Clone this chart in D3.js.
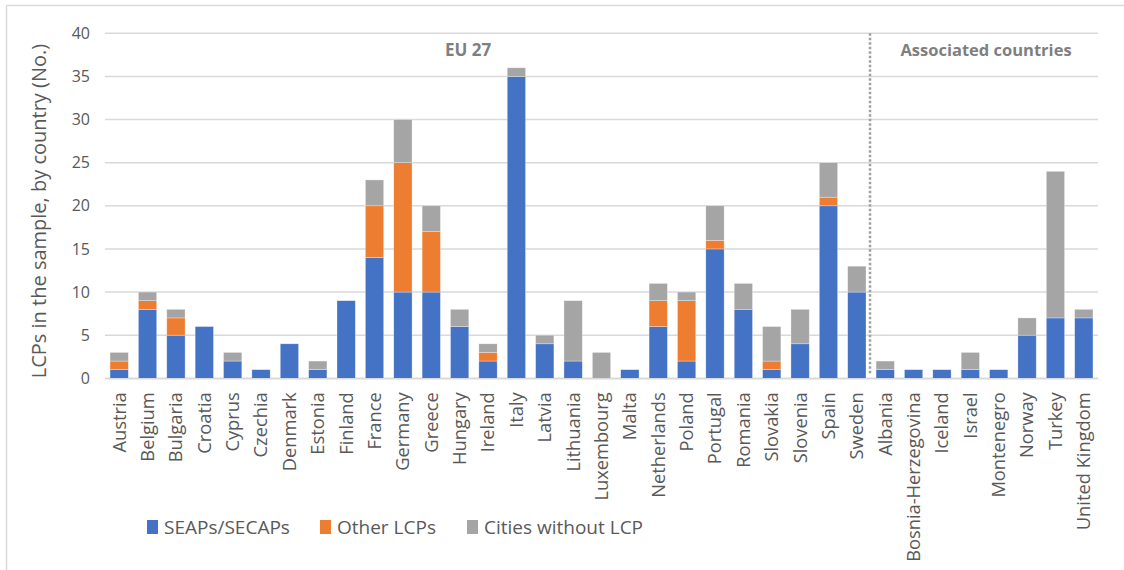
<!DOCTYPE html>
<html>
<head>
<meta charset="utf-8">
<script src="https://cdn.jsdelivr.net/npm/d3@7"></script>
<style>
  body { margin: 0; background: #fff; }
  svg { font-family: "Open Sans", "Noto Sans", sans-serif; }
</style>
</head>
<body>
<div id="chart"></div>
<script>
var w = 1124;
var h = 570;

// countries (EU 27 first, then associated countries)
var countries = ["Austria", "Belgium", "Bulgaria", "Croatia", "Cyprus", "Czechia", "Denmark", "Estonia",
    "Finland", "France", "Germany", "Greece", "Hungary", "Ireland", "Italy", "Latvia", "Lithuania",
    "Luxembourg", "Malta", "Netherlands", "Poland", "Portugal", "Romania", "Slovakia", "Slovenia",
    "Spain", "Sweden", "Albania", "Bosnia-Herzegovina", "Iceland", "Israel", "Montenegro", "Norway",
    "Turkey", "United Kingdom"];
var seaps  = [1, 8, 5, 6, 2, 1, 4, 1, 9, 14, 10, 10, 6, 2, 35, 4, 2, 0, 1, 6, 2, 15, 8, 1, 4, 20, 10,
              1, 1, 1, 1, 1, 5, 7, 7];
var other  = [1, 1, 2, 0, 0, 0, 0, 0, 0, 6, 15, 7, 0, 1, 0, 0, 0, 0, 0, 3, 7, 1, 0, 1, 0, 1, 0,
              0, 0, 0, 0, 0, 0, 0, 0];
var noLcp  = [1, 1, 1, 0, 1, 0, 0, 1, 0, 3, 5, 3, 2, 1, 1, 1, 7, 3, 0, 2, 1, 4, 3, 4, 4, 4, 3,
              1, 0, 0, 2, 0, 2, 17, 1];
var seriesNames = ["SEAPs/SECAPs", "Other LCPs", "Cities without LCP"];
var yTicks = [0, 5, 10, 15, 20, 25, 30, 35, 40];
var euCount = 27;

var dataset = countries.map(function(c, i) {
    return { country: c, "SEAPs/SECAPs": seaps[i], "Other LCPs": other[i], "Cities without LCP": noLcp[i] };
});

var svg = d3.select("#chart")
            .append("svg")
            .attr("width", w)
            .attr("height", h);

// chart frame (only top and left edges visible in the original)
svg.append("rect")
   .attr("x", 6.5).attr("y", 5.5)
   .attr("width", w + 10).attr("height", h + 10)
   .attr("fill", "none")
   .attr("stroke", "#d9d9d9")
   .attr("stroke-width", 1.5);

var plotLeft = 105, plotRight = 1098, plotTop = 33.3, plotBottom = 378.3;

var xScale = d3.scaleBand()
               .domain(countries)
               .range([plotLeft, plotRight])
               .paddingInner(0.355)
               .paddingOuter(0.1775);

var yScale = d3.scaleLinear()
               .domain([0, 40])
               .range([plotBottom, plotTop]);

var color = d3.scaleOrdinal()
              .domain(seriesNames)
              .range(["#4472c4", "#ed7d31", "#a5a5a5"]);

// gridlines
svg.append("g")
   .selectAll("line")
   .data(yTicks)
   .enter()
   .append("line")
   .attr("x1", plotLeft)
   .attr("x2", plotRight)
   .attr("y1", function(d) { return yScale(d); })
   .attr("y2", function(d) { return yScale(d); })
   .attr("stroke", "#d9d9d9")
   .attr("stroke-width", 1.5);

// y axis labels
var yAxis = d3.axisLeft(yScale).tickValues(yTicks).tickSize(0).tickPadding(15);
var yg = svg.append("g")
            .attr("transform", "translate(" + plotLeft + ",0)")
            .call(yAxis);
yg.select(".domain").remove();
yg.selectAll("text")
  .attr("fill", "#595959")
  .style("font-size", "16px")
  .style("font-family", "Open Sans, Noto Sans, sans-serif");

// stacked bars
var series = d3.stack().keys(seriesNames)(dataset);

var groups = svg.selectAll("g.series")
                .data(series)
                .enter()
                .append("g")
                .attr("class", "series")
                .style("fill", function(d) { return color(d.key); });

groups.selectAll("rect")
      .data(function(d) { return d.filter(function(s) { return s[1] > s[0]; }); })
      .enter()
      .append("rect")
      .attr("x", function(d) { return xScale(d.data.country); })
      .attr("y", function(d) { return yScale(d[1]); })
      .attr("height", function(d) { return yScale(d[0]) - yScale(d[1]); })
      .attr("width", xScale.bandwidth())
      .attr("stroke", "#ffffff")
      .attr("stroke-opacity", 0.5)
      .attr("stroke-width", 0.6);

// x axis
var xAxis = d3.axisBottom(xScale).tickSize(0).tickPadding(0);
var xg = svg.append("g")
            .attr("transform", "translate(0," + plotBottom + ")")
            .call(xAxis);
xg.select(".domain").attr("stroke", "#d9d9d9").attr("stroke-width", 1.5);
xg.selectAll("text")
  .attr("fill", "#595959")
  .style("font-size", "18.3px")
  .style("font-family", "Open Sans, Noto Sans, sans-serif")
  .attr("text-anchor", "end")
  .attr("dy", "0.35em")
  .attr("transform", "translate(0,14) rotate(-90)")
  .attr("x", 0)
  .attr("y", 0);

// divider between EU 27 and associated countries
var divX = xScale(countries[euCount]) - xScale.step() * xScale.paddingInner() / 2 - 1;
svg.append("line")
   .attr("x1", divX).attr("x2", divX)
   .attr("y1", plotTop).attr("y2", plotBottom - 5)
   .attr("stroke", "#a0a0a0")
   .attr("stroke-width", 2.5)
   .attr("stroke-dasharray", "2.5,2");

// group labels
svg.append("text")
   .attr("x", 468).attr("y", 56)
   .attr("text-anchor", "middle")
   .attr("fill", "#7f7f7f")
   .style("font-size", "17px")
   .style("font-weight", "bold")
   .text("EU 27");

svg.append("text")
   .attr("x", 986).attr("y", 56)
   .attr("text-anchor", "middle")
   .attr("fill", "#7f7f7f")
   .style("font-size", "16.5px")
   .style("font-weight", "bold")
   .text("Associated countries");

// y axis title
svg.append("text")
   .attr("transform", "translate(46,211) rotate(-90)")
   .attr("text-anchor", "middle")
   .attr("fill", "#595959")
   .style("font-size", "20px")
   .text("LCPs in the sample, by country (No.)");

// legend
var legendX = [147, 320, 467];
var legend = svg.selectAll("g.legend")
                .data(seriesNames)
                .enter()
                .append("g")
                .attr("class", "legend")
                .attr("transform", function(d, i) { return "translate(" + legendX[i] + ",520)"; });

legend.append("rect")
      .attr("width", 11)
      .attr("height", 14)
      .attr("fill", function(d) { return color(d); });

legend.append("text")
      .attr("x", 17)
      .attr("y", 7)
      .attr("dy", "0.35em")
      .attr("fill", "#595959")
      .style("font-size", "19px")
      .text(function(d) { return d; });
</script>
</body>
</html>
